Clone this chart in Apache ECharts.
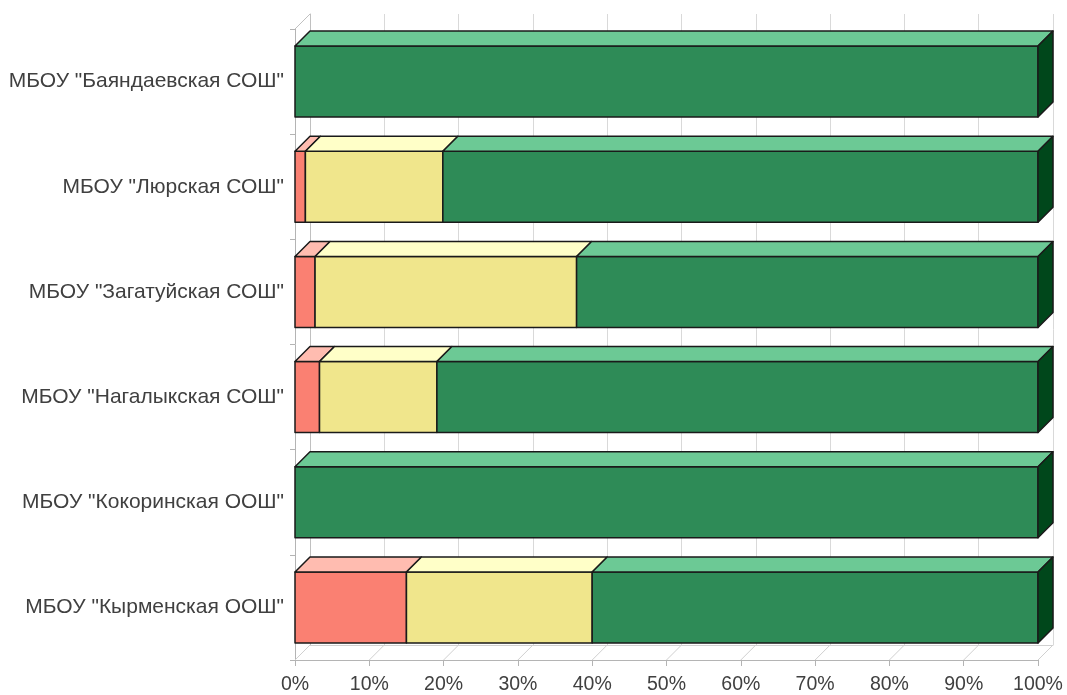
<!DOCTYPE html>
<html>
<head>
<meta charset="utf-8">
<style>
html,body{margin:0;padding:0;background:#fff;}
#chart{width:1067px;height:695px;}
</style>
<script src="https://cdn.jsdelivr.net/npm/echarts@6/dist/echarts.min.js"></script>
</head>
<body>
<div id="chart"></div>
<script>
var categories = ['МБОУ "Баяндаевская СОШ"', 'МБОУ "Люрская СОШ"', 'МБОУ "Загатуйская СОШ"', 'МБОУ "Нагалыкская СОШ"', 'МБОУ "Кокоринская ООШ"', 'МБОУ "Кырменская ООШ"'];
var lowShare = [0, 1.4, 2.7, 3.3, 0, 15];
var midShare = [0, 18.5, 35.2, 15.8, 0, 25];
var highShare = [100, 80.1, 62.1, 80.9, 100, 60];
var xTicks = [0, 10, 20, 30, 40, 50, 60, 70, 80, 90, 100];

var D = 15;
var FONT = '"Liberation Sans", Arial, sans-serif';

function segs(startArr, vals) {
  return vals.map(function (v, i) { return [i, startArr[i], startArr[i] + v]; });
}
var zero = categories.map(function () { return 0; });
var afterLow = lowShare.map(function (v) { return v; });
var afterMid = lowShare.map(function (v, i) { return v + midShare[i]; });

function makeRender(front, top, side, isLast) {
  return function (params, api) {
    var cat = api.value(0), s = api.value(1), e = api.value(2);
    if (e - s <= 0) return null;
    var p0 = api.coord([s, cat]), p1 = api.coord([e, cat]);
    var band = api.size([0, 1])[1];
    var h = band * 0.675;
    var x0 = p0[0], x1 = p1[0];
    var y0 = p0[1] - h / 2, y1 = p0[1] + h / 2;
    var st = { stroke: '#1a1a1a', lineWidth: 1.5, lineJoin: 'round' };
    var children = [
      { type: 'rect', shape: { x: x0, y: y0, width: x1 - x0, height: y1 - y0 },
        style: Object.assign({ fill: front }, st) },
      { type: 'polygon', shape: { points: [[x0, y0], [x1, y0], [x1 + D, y0 - D], [x0 + D, y0 - D]] },
        style: Object.assign({ fill: top }, st) }
    ];
    if (isLast) {
      children.push({ type: 'polygon', shape: { points: [[x1, y0], [x1 + D, y0 - D], [x1 + D, y1 - D], [x1, y1]] },
        style: Object.assign({ fill: side }, st) });
    }
    return { type: 'group', children: children };
  };
}

function wallRender(params, api) {
  var v = api.value(0);
  var cs = params.coordSys;
  var x = api.coord([v, 0])[0];
  var bottom = cs.y + cs.height;
  var children = [
    { type: 'line', shape: { x1: x, y1: bottom, x2: x + D, y2: bottom - D },
      style: { stroke: '#d0d0d0', lineWidth: 1 } }
  ];
  if (v === xTicks[0]) {
    children.push({ type: 'line', shape: { x1: x, y1: cs.y, x2: x + D, y2: cs.y - D },
      style: { stroke: '#c0c0c0', lineWidth: 1 } });
  }
  return { type: 'group', children: children };
}

var chart = echarts.init(document.getElementById('chart'));
chart.setOption({
  animation: false,
  backgroundColor: '#ffffff',
  grid: [
    { left: 295, right: 29, top: 29, bottom: 35 },
    { left: 310, right: 14, top: 14, bottom: 50 }
  ],
  xAxis: [
    { type: 'value', gridIndex: 0, min: 0, max: 100, interval: 10,
      axisLine: { show: true, lineStyle: { color: '#b4b4b4', width: 1 } },
      axisTick: { show: true, length: 6, lineStyle: { color: '#b4b4b4' } },
      splitLine: { show: false },
      axisLabel: { formatter: '{value}%', fontSize: 19.5, color: '#404040', fontFamily: FONT, margin: 15 } },
    { type: 'value', gridIndex: 1, min: 0, max: 100, interval: 10,
      axisLine: { show: true, lineStyle: { color: '#d0d0d0', width: 1 } },
      axisTick: { show: false }, axisLabel: { show: false },
      splitLine: { show: true, lineStyle: { color: '#d9d9d9', width: 1 } } }
  ],
  yAxis: [
    { type: 'category', gridIndex: 0, inverse: true, data: categories,
      axisLine: { show: true, lineStyle: { color: '#b4b4b4', width: 1 } },
      axisTick: { show: true, length: 5, lineStyle: { color: '#b4b4b4' } },
      axisLabel: { fontSize: 21, color: '#404040', fontFamily: FONT, margin: 11 } },
    { type: 'category', gridIndex: 1, inverse: true, data: categories,
      axisLine: { show: true, lineStyle: { color: '#c0c0c0', width: 1 } },
      axisTick: { show: false }, axisLabel: { show: false }, splitLine: { show: false } }
  ],
  series: [
    { type: 'custom', xAxisIndex: 0, yAxisIndex: 0, renderItem: wallRender, z: 1,
      data: xTicks.map(function (t) { return [t]; }), encode: { x: 0 }, silent: true },
    { type: 'custom', name: 'low', xAxisIndex: 0, yAxisIndex: 0, z: 3,
      renderItem: makeRender('#FA8072', '#FFBCB0', '#C04A3C', false),
      data: segs(zero, lowShare), encode: { x: [1, 2], y: 0 } },
    { type: 'custom', name: 'mid', xAxisIndex: 0, yAxisIndex: 0, z: 3,
      renderItem: makeRender('#F0E68C', '#FFFFC8', '#B0A850', false),
      data: segs(afterLow, midShare), encode: { x: [1, 2], y: 0 } },
    { type: 'custom', name: 'high', xAxisIndex: 0, yAxisIndex: 0, z: 3,
      renderItem: makeRender('#2E8B57', '#6CC995', '#00471B', true),
      data: segs(afterMid, highShare), encode: { x: [1, 2], y: 0 } }
  ]
});
</script>
</body>
</html>
